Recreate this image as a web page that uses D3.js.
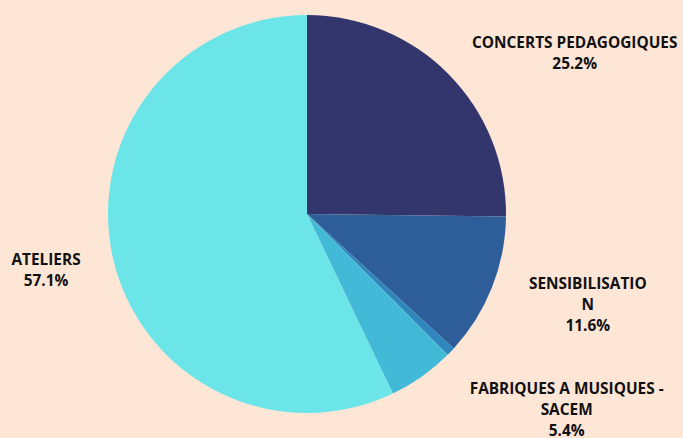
<!DOCTYPE html>
<html>
<head>
<meta charset="utf-8">
<script src="https://cdn.jsdelivr.net/npm/d3@7"></script>
<style>
  body { margin: 0; background: #fee6d7; }
  svg { display: block; }
</style>
</head>
<body>
<svg width="683" height="438"></svg>
<script>
let categories = ['CONCERTS PEDAGOGIQUES', 'SENSIBILISATION', 'AUTRE', 'FABRIQUES A MUSIQUES - SACEM', 'ATELIERS']
let values = [25.2, 11.6, 0.7, 5.4, 57.1]
let labelLines = [
  ['CONCERTS PEDAGOGIQUES', '25.2%'],
  ['SENSIBILISATIO', 'N', '11.6%'],
  null,
  ['FABRIQUES A MUSIQUES -', 'SACEM', '5.4%'],
  ['ATELIERS', '57.1%']
]
let colors = ['#33366d', '#2e5e99', '#2e86bd', '#42b9d6', '#6be5e8']

let width = 683, height = 438
let cx = 307, cy = 214, radius = 199
let lineHeight = 21

let svg = d3.select('svg')
let g = svg.append('g').attr('transform', 'translate(' + cx + ',' + cy + ')')

let data = categories.map(function (c, i) {
  return { name: c, value: values[i], color: colors[i], lines: labelLines[i] }
})

let pie = d3.pie().sort(null).value(function (d) { return d.value })
let arc = d3.arc().innerRadius(0).outerRadius(radius)
let arcs = pie(data)

g.selectAll('path.slice').data(arcs)
  .enter().append('path')
  .attr('class', 'slice')
  .attr('d', arc)
  .attr('fill', function (d) { return d.data.color })

// labels placed beside the pie, vertical position from the slice mid angle
let labels = g.selectAll('g.label').data(arcs.filter(function (d) { return d.data.lines }))
  .enter().append('g')
  .attr('class', 'label')
  .attr('transform', function (d) {
    let mid = (d.startAngle + d.endAngle) / 2
    let s = Math.sin(mid)
    let side = s >= 0 ? 1 : -1
    let x = side * (225 + 60 * Math.abs(s))
    x = Math.max(-cx + 46, Math.min(width - cx - 95, x))
    let y = -235 * Math.cos(mid) + 4
    return 'translate(' + x + ',' + y + ')'
  })

labels.each(function (d) {
  let n = d.data.lines.length
  let sel = d3.select(this)
  d.data.lines.forEach(function (line, i) {
    sel.append('text')
      .attr('x', 0)
      .attr('y', (i - (n - 1) / 2) * lineHeight)
      .attr('dy', '0.35em')
      .attr('text-anchor', 'middle')
      .attr('font-family', 'Open Sans, sans-serif')
      .attr('font-weight', 'bold')
      .attr('font-size', 15.4)
      .attr('fill', '#111')
      .text(line)
  })
})
</script>
</body>
</html>
